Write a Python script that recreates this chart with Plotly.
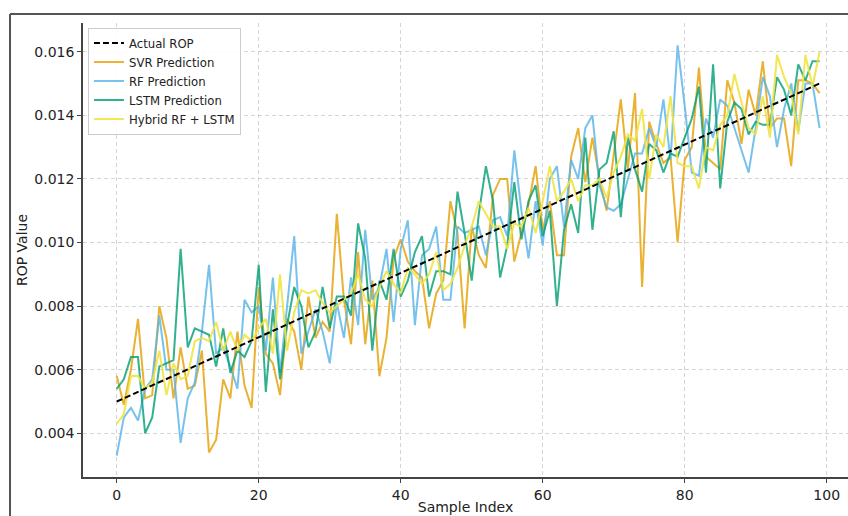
import plotly.graph_objects as go

idx = list(range(100))

actual_x = [0, 99]
actual_rop = [0.0050, 0.0150]

svr = [0.0058, 0.0049, 0.0060, 0.0076, 0.0051, 0.0052, 0.0080, 0.0070, 0.0051, 0.0067,
       0.0054, 0.0055, 0.0066, 0.0034, 0.0038, 0.0057, 0.0051, 0.0072, 0.0055, 0.0048,
       0.0086, 0.0065, 0.0062, 0.0052, 0.0076, 0.0072, 0.0060, 0.0083, 0.0070, 0.0075,
       0.0072, 0.0109, 0.0082, 0.0068, 0.0097, 0.0068, 0.0088, 0.0058, 0.0070, 0.0095,
       0.0101, 0.0094, 0.0091, 0.0089, 0.0073, 0.0084, 0.0088, 0.0113, 0.0103, 0.0073,
       0.0105, 0.0096, 0.0092, 0.0115, 0.0120, 0.0120, 0.0094, 0.0103, 0.0112, 0.0124,
       0.0104, 0.0113, 0.0096, 0.0096, 0.0127, 0.0136, 0.0119, 0.0133, 0.0120, 0.0110,
       0.0127, 0.0145, 0.0123, 0.0147, 0.0086, 0.0138, 0.0131, 0.0125, 0.0127, 0.0100,
       0.0126, 0.0130, 0.0155, 0.0127, 0.0125, 0.0123, 0.0151, 0.0144, 0.0131, 0.0148,
       0.0140, 0.0157, 0.0136, 0.0139, 0.0139, 0.0124, 0.0151, 0.0151, 0.0150, 0.0147]

rf = [0.0033, 0.0045, 0.0048, 0.0044, 0.0054, 0.0057, 0.0077, 0.0060, 0.0060, 0.0037,
      0.0051, 0.0056, 0.0072, 0.0093, 0.0065, 0.0067, 0.0061, 0.0054, 0.0082, 0.0078,
      0.0080, 0.0066, 0.0089, 0.0059, 0.0080, 0.0102, 0.0065, 0.0072, 0.0079, 0.0072,
      0.0062, 0.0081, 0.0070, 0.0089, 0.0074, 0.0104, 0.0082, 0.0086, 0.0098, 0.0075,
      0.0098, 0.0107, 0.0074, 0.0096, 0.0098, 0.0105, 0.0082, 0.0082, 0.0105, 0.0103,
      0.0104, 0.0105, 0.0096, 0.0107, 0.0108, 0.0102, 0.0129, 0.0110, 0.0095, 0.0113,
      0.0099, 0.0120, 0.0124, 0.0105, 0.0126, 0.0120, 0.0136, 0.0140, 0.0118, 0.0111,
      0.0110, 0.0112, 0.0120, 0.0128, 0.0128, 0.0136, 0.0130, 0.0145, 0.0126, 0.0162,
      0.0143, 0.0122, 0.0121, 0.0139, 0.0133, 0.0145, 0.0143, 0.0136, 0.0129, 0.0122,
      0.0136, 0.0152, 0.0146, 0.0130, 0.0142, 0.0150, 0.0135, 0.0150, 0.0150, 0.0136]

lstm = [0.0054, 0.0057, 0.0064, 0.0064, 0.0040, 0.0045, 0.0061, 0.0062, 0.0063, 0.0098,
        0.0067, 0.0073, 0.0072, 0.0071, 0.0061, 0.0073, 0.0059, 0.0066, 0.0064, 0.0069,
        0.0093, 0.0053, 0.0079, 0.0057, 0.0074, 0.0086, 0.0080, 0.0067, 0.0072, 0.0086,
        0.0073, 0.0083, 0.0083, 0.0077, 0.0106, 0.0095, 0.0066, 0.0088, 0.0082, 0.0098,
        0.0083, 0.0088, 0.0097, 0.0102, 0.0083, 0.0091, 0.0091, 0.0090, 0.0116, 0.0103,
        0.0088, 0.0109, 0.0124, 0.0113, 0.0089, 0.0099, 0.0119, 0.0101, 0.0113, 0.0118,
        0.0102, 0.0110, 0.0080, 0.0104, 0.0112, 0.0103, 0.0133, 0.0104, 0.0123, 0.0125,
        0.0135, 0.0108, 0.0133, 0.0123, 0.0116, 0.0131, 0.0129, 0.0122, 0.0128, 0.0127,
        0.0133, 0.0139, 0.0149, 0.0122, 0.0156, 0.0117, 0.0138, 0.0144, 0.0142, 0.0134,
        0.0138, 0.0137, 0.0137, 0.0152, 0.0148, 0.0140, 0.0156, 0.0151, 0.0157, 0.0157]

hybrid = [0.0043, 0.0046, 0.0058, 0.0058, 0.0054, 0.0056, 0.0066, 0.0052, 0.0062, 0.0057,
          0.0058, 0.0069, 0.0070, 0.0069, 0.0075, 0.0066, 0.0072, 0.0066, 0.0071, 0.0069,
          0.0073, 0.0076, 0.0065, 0.0090, 0.0066, 0.0078, 0.0085, 0.0084, 0.0085, 0.0081,
          0.0078, 0.0080, 0.0082, 0.0084, 0.0090, 0.0082, 0.0080, 0.0086, 0.0091, 0.0087,
          0.0084, 0.0092, 0.0090, 0.0087, 0.0090, 0.0097, 0.0085, 0.0087, 0.0092, 0.0099,
          0.0105, 0.0113, 0.0109, 0.0105, 0.0105, 0.0098, 0.0106, 0.0105, 0.0111, 0.0103,
          0.0113, 0.0124, 0.0113, 0.0116, 0.0120, 0.0113, 0.0118, 0.0118, 0.0120, 0.0114,
          0.0122, 0.0127, 0.0134, 0.0132, 0.0142, 0.0120, 0.0134, 0.0130, 0.0146, 0.0125,
          0.0124, 0.0124, 0.0117, 0.0130, 0.0129, 0.0137, 0.0140, 0.0153, 0.0144, 0.0136,
          0.0134, 0.0146, 0.0133, 0.0159, 0.0152, 0.0147, 0.0134, 0.0159, 0.0149, 0.0160]

x_ticks = [0, 20, 40, 60, 80, 100]
y_ticks = [0.004, 0.006, 0.008, 0.010, 0.012, 0.014, 0.016]
y_tick_labels = ["0.004", "0.006", "0.008", "0.010", "0.012", "0.014", "0.016"]

FONT = "DejaVu Sans"

fig = go.Figure()
series = [("SVR Prediction", svr, "#E69F00", 0.8),
          ("RF Prediction", rf, "#56B4E9", 0.8),
          ("LSTM Prediction", lstm, "#009E73", 0.8),
          ("Hybrid RF + LSTM", hybrid, "#F0E442", 0.9)]
for k, (name, vals, col, op) in enumerate(series):
    fig.add_trace(go.Scatter(x=idx, y=vals, mode="lines", name=name, legendrank=10 + k,
                             line=dict(color=col, width=2), opacity=op))
fig.add_trace(go.Scatter(x=actual_x, y=actual_rop, mode="lines", name="Actual ROP",
                         legendrank=1,
                         line=dict(color="black", width=2, dash="6px,3px")))

grid = dict(showgrid=True, gridcolor="#d4d4d4", griddash="4px,3px", gridwidth=1)
fig.update_layout(
    width=848, height=516,
    margin=dict(l=83, r=0, t=23, b=39, autoexpand=False),
    paper_bgcolor="white", plot_bgcolor="white",
    font=dict(family=FONT, size=14, color="#222"),
    showlegend=True,
    legend=dict(x=0.0065, y=0.99, xanchor="left", yanchor="top",
                bgcolor="rgba(255,255,255,0.85)", bordercolor="#cccccc", borderwidth=1,
                font=dict(family=FONT, size=11.7, color="#222"),
                traceorder="normal", tracegroupgap=0, itemwidth=30),
    xaxis=dict(range=[-4.75, 103.0], tickvals=x_ticks, ticks="outside", ticklen=4,
               tickcolor="#444", showline=True, linecolor="#444", linewidth=1.5,
               zeroline=False, tickfont=dict(size=14), automargin=False,
               title=dict(text="Sample Index", font=dict(size=14), standoff=1), **grid),
    yaxis=dict(range=[0.002626, 0.016903], tickvals=y_ticks, ticktext=y_tick_labels,
               ticks="outside", ticklen=4, tickcolor="#444", showline=True,
               linecolor="#444", linewidth=1.5, zeroline=False, tickfont=dict(size=14),
               automargin=False,
               title=dict(text="ROP Value", font=dict(size=14), standoff=3), **grid),
    shapes=[
        dict(type="line", xref="paper", yref="paper", x0=-0.0954, x1=1.0,
             y0=1.0198, y1=1.0198, line=dict(color="#555", width=2)),
        dict(type="line", xref="paper", yref="paper", x0=-0.0954, x1=-0.0954,
             y0=1.0198, y1=-0.09, line=dict(color="#555", width=2)),
    ],
)

fig.write_html("out.html", config={"displayModeBar": False},
               post_script="document.body.style.margin='0';document.body.style.overflow='hidden';")
